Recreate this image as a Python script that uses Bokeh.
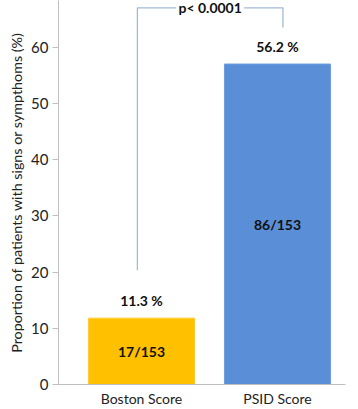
from bokeh.plotting import figure
from bokeh.models import Range1d, FixedTicker, ColumnDataSource, Title
from bokeh.core.properties import value
from bokeh.embed import file_html
from bokeh.resources import INLINE

categories = ["Boston Score", "PSID Score"]
values = [11.8, 57.0]
pct_labels = ["11.3 %", "56.2 %"]
count_labels = ["17/153", "86/153"]
colors = ["#FFC000", "#5A8FD8"]
outline = ["#FFCB33", "#6E9CDD"]
p_text = "p< 0.0001"
y_ticks = [0, 10, 20, 30, 40, 50, 60]
y_title = "Proportion of patients with signs or sympthoms (%)"

FONT = "Lato"
xs = list(range(len(categories)))

p = figure(width=358, height=409, output_backend="svg", toolbar_location=None,
           x_range=Range1d(-0.61, 1.5), y_range=Range1d(0, 68.3))
p.min_border_left = 58
p.min_border_right = 13
p.min_border_top = 0
p.min_border_bottom = 22
p.outline_line_color = None
p.grid.visible = False

src = ColumnDataSource(dict(x=xs, top=values, fill=colors, line=outline,
                            pct=pct_labels, cnt=count_labels,
                            pct_y=[v + 3.1 for v in values],
                            cnt_y=[v / 2 for v in values]))
p.vbar(x="x", top="top", width=0.78, bottom=0, source=src,
       fill_color="fill", line_color="line", line_width=1)

p.text(x="x", y="pct_y", text="pct", source=src, text_font=value(FONT),
       text_font_style="bold", text_font_size="14px", text_align="center",
       text_baseline="middle", text_color="#111111")
p.text(x="x", y="cnt_y", text="cnt", source=src, text_font=value(FONT),
       text_font_style="bold", text_font_size="14px", text_align="center",
       text_baseline="middle", text_color="#111111")

# significance bracket
top_y = max(values) + 10.0
bx = [xs[0] - 0.03, xs[0] - 0.03, xs[1] + 0.04, xs[1] + 0.04]
by = [values[0] + 8.5, top_y, top_y, values[1] + 6.5]
p.line(bx, by, line_color="#A3BAD3", line_width=1.3)
mid = (bx[1] + bx[2]) / 2
p.rect(x=[mid], y=[top_y], width=0.5, height=2.5, fill_color="white", line_color=None)
p.text(x=[mid], y=[top_y], text=[p_text], text_font=value(FONT), text_font_style="bold",
       text_font_size="14px", text_align="center", text_baseline="middle",
       text_color="#111111")

# axes
p.xaxis.ticker = FixedTicker(ticks=xs)
p.xaxis.major_label_overrides = {i: c for i, c in enumerate(categories)}
p.xaxis.major_tick_line_color = None
p.xaxis.major_tick_out = 0
p.xaxis.major_tick_in = 0
p.xaxis.minor_tick_line_color = None
p.xaxis.axis_line_color = "#BFBFBF"
p.xaxis.major_label_standoff = 5
p.xaxis.major_label_text_font = FONT
p.xaxis.major_label_text_font_size = "14px"
p.xaxis.major_label_text_color = "#222222"

p.yaxis.ticker = FixedTicker(ticks=y_ticks)
p.yaxis.axis_line_color = "#BFBFBF"
p.yaxis.major_tick_line_color = "#BFBFBF"
p.yaxis.major_tick_out = 6
p.yaxis.major_tick_in = 0
p.yaxis.minor_tick_line_color = None
p.yaxis.major_label_text_font = FONT
p.yaxis.major_label_text_font_size = "15px"
p.yaxis.major_label_text_color = "#222222"
p.yaxis.major_label_standoff = 4

title = Title(text=y_title, align="center", standoff=7,
              text_font=FONT, text_font_size="14.3px", text_font_style="normal",
              text_color="#222222")
p.add_layout(title, "left")

open("out.html", "w").write(file_html(p, INLINE))
